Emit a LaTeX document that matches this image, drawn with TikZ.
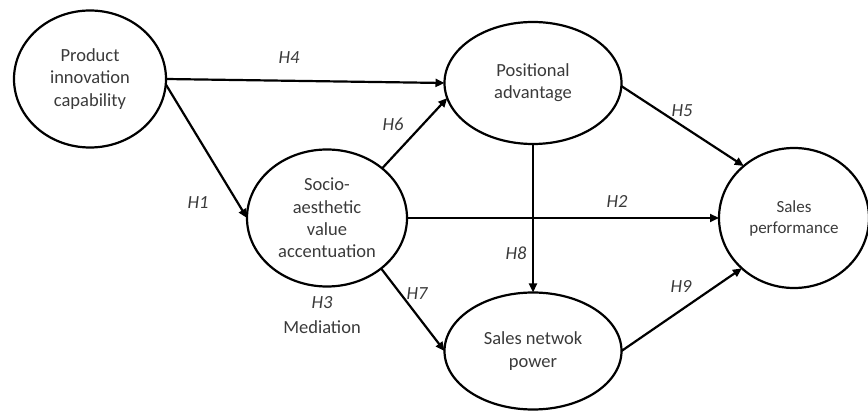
\documentclass[tikz,border=0pt]{standalone}
\usepackage{fontspec}
\setmainfont{Carlito}
\usetikzlibrary{shapes.geometric,arrows.meta}
\definecolor{txtgray}{HTML}{3A3A3A}
\begin{document}
\begin{tikzpicture}[x=1pt,y=1pt,node distance=2cm]

\tikzstyle{construct} = [ellipse, draw=black, line width=2.2pt, inner sep=0pt, outer sep=0pt, align=center, text=txtgray, font=\fontsize{18.5}{22.3}\selectfont]
\tikzstyle{hyp} = [text=txtgray, font=\fontsize{18.5}{22.3}\selectfont\itshape, inner sep=0pt]
\tikzstyle{note} = [text=txtgray, align=center, font=\fontsize{18.5}{22.3}\selectfont, inner sep=0pt]

\tikzstyle{arrow} = [line width=2.2pt,-{Triangle[length=9pt,width=8pt]}]

\useasboundingbox (0,0) rectangle (868,-411);

\node (pic) [construct, minimum width=152pt, minimum height=137pt] at (90,-79) {Product\\innovation\\capability};
\node (pa) [construct, minimum width=177pt, minimum height=122pt, right of = pic, node distance=443pt, yshift=-4pt] {Positional\\advantage};
\node (snp) [construct, minimum width=177pt, minimum height=117pt, below of = pa, node distance=268pt] {Sales netwok\\power};
\node (sav) [construct, minimum width=160pt, minimum height=137pt, left of = snp, node distance=206pt, yshift=133pt] {Socio-\\aesthetic\\value\\accentuation};
\node (sp) [construct, minimum width=150pt, minimum height=140pt, right of = sav, node distance=467pt, font=\fontsize{17}{21}\selectfont] {Sales\\performance};

\draw [arrow] (pic.east) -- (pa.west);
\draw [arrow] (pic.-4) -- (sav.west);
\draw [arrow] (sav.42) -- (pa.190);
\draw [arrow] (sav.east) -- (sp.west);
\draw [arrow] (sav.-43) -- (snp.west);
\draw [arrow] (pa.-2) -- (sp.134);
\draw [arrow] (pa.south) -- (snp.north);
\draw [arrow] (snp.east) -- (sp.224);

\node (h4) [hyp] at (289,-58) {H4};
\node (h1) [hyp] at (198,-203) {H1};
\node (h6) [hyp] at (393,-124) {H6};
\node (h2) [hyp] at (617,-202) {H2};
\node (h7) [hyp] at (417,-294) {H7};
\node (h3) [note] at (322,-315) {\textit{H3}\\[2pt]Mediation};
\node (h5) [hyp] at (682,-111) {H5};
\node (h8) [hyp] at (516,-253) {H8};
\node (h9) [hyp] at (681,-287) {H9};

\end{tikzpicture}
\end{document}
